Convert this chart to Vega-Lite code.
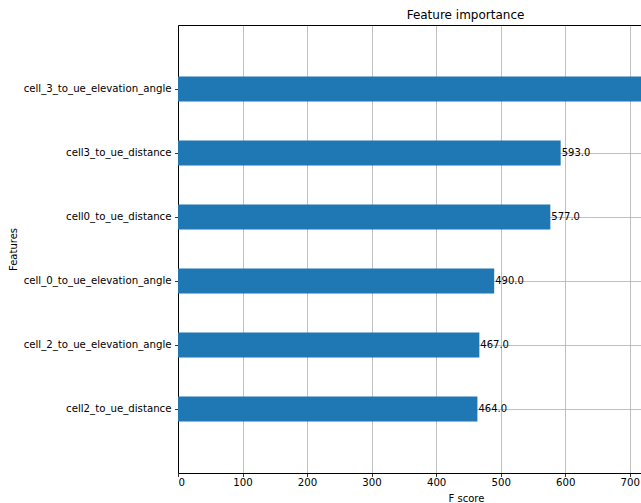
{
  "$schema": "https://vega.github.io/schema/vega-lite/v6.json",
  "width": 463,
  "height": 448,
  "autosize": {"type": "none"},
  "padding": {"left": 178, "top": 25, "right": 0, "bottom": 30},
  "background": "white",
  "title": {
    "text": "Feature importance",
    "fontSize": 12,
    "font": "DejaVu Sans",
    "fontWeight": "normal",
    "color": "#000000",
    "dx": 56,
    "dy": 10,
    "offset": 4,
    "baseline": "alphabetic"
  },
  "data": {
    "values": [
      {"feature": "cell_3_to_ue_elevation_angle", "score": 810},
      {"feature": "cell3_to_ue_distance", "score": 593},
      {"feature": "cell0_to_ue_distance", "score": 577},
      {"feature": "cell_0_to_ue_elevation_angle", "score": 490},
      {"feature": "cell_2_to_ue_elevation_angle", "score": 467},
      {"feature": "cell2_to_ue_distance", "score": 464}
    ]
  },
  "config": {
    "view": {"stroke": null},
    "axis": {
      "zindex": 1,
      "domainColor": "#000000",
      "domainWidth": 1,
      "tickColor": "#000000",
      "tickSize": 3.5,
      "tickWidth": 0.8,
      "labelFont": "DejaVu Sans",
      "labelFontSize": 10.2,
      "labelColor": "#000000",
      "titleFont": "DejaVu Sans",
      "titleFontSize": 10,
      "titleFontWeight": "normal",
      "titleColor": "#000000",
      "gridColor": "#b0b0b0",
      "gridWidth": 0.8,
      "gridOpacity": 1
    }
  },
  "encoding": {
    "y": {
      "field": "feature",
      "type": "nominal",
      "sort": null,
      "scale": {"paddingInner": 0.61, "paddingOuter": 0.805},
      "axis": {
        "title": "Features",
        "grid": true,
        "bandPosition": 0.5,
        "labelPadding": 3.5,
        "titleX": -165,
        "titleBaseline": "middle"
      }
    }
  },
  "layer": [
    {
      "mark": {"type": "bar", "color": "#1f77b4", "clip": true},
      "encoding": {
        "x": {
          "field": "score",
          "type": "quantitative",
          "scale": {"domain": [0, 717.5], "nice": false, "zero": true},
          "axis": {
            "title": "F score",
            "values": [0, 100, 200, 300, 400, 500, 600, 700],
            "grid": true,
            "labelPadding": 1,
            "titleX": 288,
            "titleY": 25,
            "titleBaseline": "middle"
          }
        }
      }
    },
    {
      "transform": [{"filter": "datum.score < 700"}],
      "mark": {"type": "text", "align": "left", "baseline": "middle", "dx": 1, "font": "DejaVu Sans", "fontSize": 10, "color": "#000000", "clip": true},
      "encoding": {
        "x": {
          "field": "score",
          "type": "quantitative",
          "axis": {
            "orient": "top",
            "labels": false,
            "ticks": false,
            "grid": false,
            "domain": true,
            "title": null
          }
        },
        "text": {"field": "score", "type": "quantitative", "format": ".1f"}
      }
    }
  ],
  "resolve": {"axis": {"x": "independent"}}
}
